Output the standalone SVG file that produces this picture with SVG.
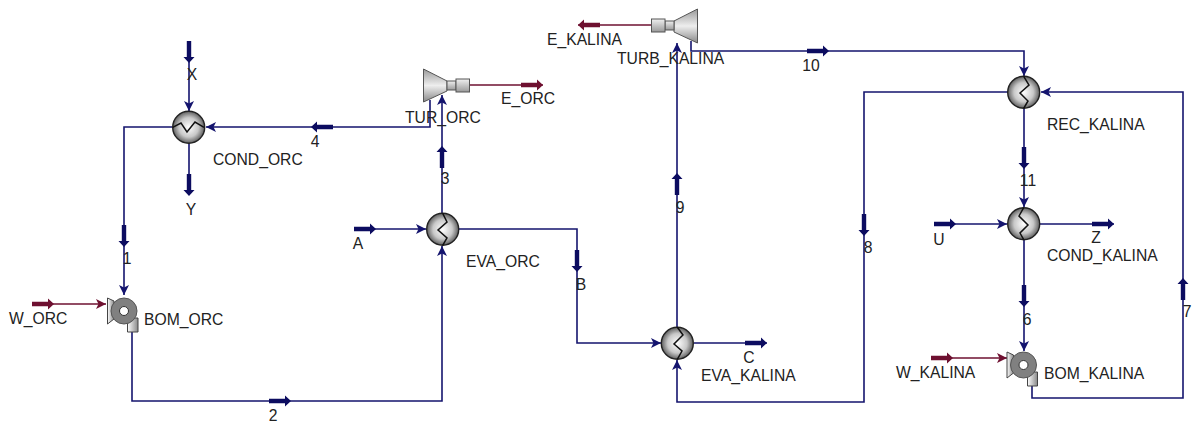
<svg xmlns="http://www.w3.org/2000/svg" width="1193" height="423" viewBox="0 0 1193 423">
<style>
text{font-family:"Liberation Sans",Arial,sans-serif;font-size:15.7px;fill:#222}
.s{fill:none;stroke:#14146e;stroke-width:1.6}
.w{fill:none;stroke:#6e1030;stroke-width:1.6}
.hx{fill:url(#hxg);stroke:#222;stroke-width:1.4}
.z{fill:none;stroke:#111;stroke-width:1.5}
.tb{fill:url(#tg);stroke:#555;stroke-width:1}
.cp{fill:url(#cg);stroke:#555;stroke-width:1}
.pm{fill:#808080;stroke:#555;stroke-width:1}
.pl{fill:url(#pg);stroke:#444;stroke-width:1}
.pe{fill:#fff;stroke:#333;stroke-width:1}
</style>
<defs>
<radialGradient id="hxg" cx="0.5" cy="0.5" r="0.55"><stop offset="0" stop-color="#fff"/><stop offset="0.55" stop-color="#c8c8c8"/><stop offset="1" stop-color="#444"/></radialGradient>
<linearGradient id="tg" x1="0" y1="0" x2="0" y2="1"><stop offset="0" stop-color="#999"/><stop offset="0.5" stop-color="#eee"/><stop offset="1" stop-color="#888"/></linearGradient>
<linearGradient id="cg" x1="0" y1="0" x2="0" y2="1"><stop offset="0" stop-color="#f0f0f0"/><stop offset="1" stop-color="#999"/></linearGradient>
<linearGradient id="pg" x1="0" y1="0" x2="1" y2="0"><stop offset="0" stop-color="#fff"/><stop offset="1" stop-color="#888"/></linearGradient>
<marker id="ab" markerWidth="11" markerHeight="10" refX="10" refY="5" orient="auto" markerUnits="userSpaceOnUse"><path d="M0 0L10 5L0 10L2.5 5Z" fill="#14146e"/></marker>
<marker id="ar" markerWidth="11" markerHeight="10" refX="10" refY="5" orient="auto" markerUnits="userSpaceOnUse"><path d="M0 0L10 5L0 10L2.5 5Z" fill="#6e1030"/></marker>
<path id="tkb" d="M0 -2.2H16V-5.5L22 0L16 5.5V2.2H0Z" fill="#0c0c60"/>
<path id="tkr" d="M0 -2.2H16V-5.5L22 0L16 5.5V2.2H0Z" fill="#6e1030"/>
</defs>
<g id="connectors">
<path class="s" marker-end="url(#ab)" d="M189 41V111"/>
<path class="s" d="M189 143V190"/>
<path class="s" marker-end="url(#ab)" d="M172 127H124V295"/>
<path class="s" marker-end="url(#ab)" d="M132 332V401H442V246"/>
<path class="w" marker-end="url(#ar)" d="M32 304H106"/>
<path class="s" marker-end="url(#ab)" d="M354 229H426"/>
<path class="s" marker-end="url(#ab)" d="M442 213V95"/>
<path class="s" marker-end="url(#ab)" d="M430 100V127H206"/>
<path class="w" d="M470 85H543"/>
<path class="s" marker-end="url(#ab)" d="M459 229H577V343H661"/>
<path class="s" d="M694 343H767"/>
<path class="s" marker-end="url(#ab)" d="M677 327V43"/>
<path class="w" d="M651 25H578"/>
<path class="s" marker-end="url(#ab)" d="M691 41V51H1024V76"/>
<path class="s" marker-end="url(#ab)" d="M1008 92H864V402H677V360"/>
<path class="s" marker-end="url(#ab)" d="M1024 108V207"/>
<path class="s" marker-end="url(#ab)" d="M934 224H1007"/>
<path class="s" d="M1040 224H1114"/>
<path class="s" marker-end="url(#ab)" d="M1024 240V351"/>
<path class="w" marker-end="url(#ar)" d="M931 358H1007"/>
<path class="s" marker-end="url(#ab)" d="M1032 385V398H1183V92H1041"/>
<use href="#tkb" transform="translate(189 41) rotate(90)"/>
<use href="#tkb" transform="translate(189 174) rotate(90)"/>
<use href="#tkb" transform="translate(124 225) rotate(90)"/>
<use href="#tkb" transform="translate(269 401)"/>
<use href="#tkr" transform="translate(32 304)"/>
<use href="#tkb" transform="translate(354 229)"/>
<use href="#tkb" transform="translate(442 168) rotate(-90)"/>
<use href="#tkb" transform="translate(333 127) rotate(180)"/>
<use href="#tkr" transform="translate(521 85)"/>
<use href="#tkb" transform="translate(577 250) rotate(90)"/>
<use href="#tkb" transform="translate(745 343)"/>
<use href="#tkb" transform="translate(677 195) rotate(-90)"/>
<use href="#tkr" transform="translate(600 25) rotate(180)"/>
<use href="#tkb" transform="translate(807 51)"/>
<use href="#tkb" transform="translate(864 214) rotate(90)"/>
<use href="#tkb" transform="translate(1024 147) rotate(90)"/>
<use href="#tkb" transform="translate(934 224)"/>
<use href="#tkb" transform="translate(1092 224)"/>
<use href="#tkb" transform="translate(1024 285) rotate(90)"/>
<use href="#tkr" transform="translate(931 358)"/>
<use href="#tkb" transform="translate(1183 300) rotate(-90)"/>
</g>
<g id="COND_ORC"><circle class="hx" cx="188.700" cy="127.300" r="16"/><path class="z" d="M172.700 127.300L181 123L187 132L195 122L204 127.300"/><text x="213" y="165">COND_ORC</text></g>
<g id="BOM_ORC"><path class="pl" d="M107.500 298L114 301V319L107.500 324Z"/><path class="pl" d="M127.500 318H138V332H127.500Z"/><circle class="pm" cx="124" cy="311" r="13"/><circle class="pe" cx="124" cy="311" r="4.500"/><text x="144" y="325">BOM_ORC</text></g>
<g id="EVA_ORC"><circle class="hx" cx="442.700" cy="229.300" r="16"/><path class="z" d="M442.700 213.300L447 222L438 230L447 238L442.700 245.300"/><text x="466" y="267">EVA_ORC</text></g>
<g id="TUR_ORC"><path class="tb" d="M423.500 69L447 81V91L423.500 102Z"/><rect class="cp" x="447" y="81" width="9" height="9"/><rect class="cp" x="456" y="79" width="13.500" height="13"/><text x="405" y="123">TUR_ORC</text></g>
<text id="E_ORC" x="501" y="104">E_ORC</text>
<g id="EVA_KALINA"><circle class="hx" cx="677.300" cy="343.300" r="16"/><path class="z" d="M677.300 327.300L683 335L674 344L682 351L677.300 359.300"/><text x="701" y="381">EVA_KALINA</text></g>
<g id="TURB_KALINA"><path class="tb" d="M697.500 9L674 21V32L697.500 43Z"/><rect class="cp" x="665" y="21" width="9" height="9"/><rect class="cp" x="651.500" y="19" width="13.500" height="13"/><text x="617" y="64">TURB_KALINA</text></g>
<text id="E_KALINA" x="547" y="45">E_KALINA</text>
<g id="REC_KALINA"><circle class="hx" cx="1023.700" cy="92.300" r="16"/><path class="z" d="M1023.700 76.300L1029 85L1020 93L1028 101L1023.700 108.300"/><text x="1047" y="130">REC_KALINA</text></g>
<g id="COND_KALINA"><circle class="hx" cx="1023.700" cy="223.700" r="16"/><path class="z" d="M1023.700 207.700L1019 216L1028 225L1020 233L1023.700 239.700"/><text x="1047" y="261">COND_KALINA</text></g>
<g id="BOM_KALINA"><path class="pl" d="M1007 352L1013.500 355V373L1007 378Z"/><path class="pl" d="M1027.500 372H1037.500V386H1027.500Z"/><circle class="pm" cx="1023.500" cy="365" r="13"/><circle class="pe" cx="1023.500" cy="365" r="4.500"/><text x="1044" y="379">BOM_KALINA</text></g>
<g id="stream-labels">
<text x="192" y="80" text-anchor="middle">X</text>
<text x="191" y="215" text-anchor="middle">Y</text>
<text x="127" y="264" text-anchor="middle">1</text>
<text x="9" y="324">W_ORC</text>
<text x="273" y="421" text-anchor="middle">2</text>
<text x="315" y="147" text-anchor="middle">4</text>
<text x="445" y="184" text-anchor="middle">3</text>
<text x="358" y="249" text-anchor="middle">A</text>
<text x="581" y="290" text-anchor="middle">B</text>
<text x="749" y="363" text-anchor="middle">C</text>
<text x="680" y="213" text-anchor="middle">9</text>
<text x="811" y="71" text-anchor="middle">10</text>
<text x="868" y="253" text-anchor="middle">8</text>
<text x="1028" y="186" text-anchor="middle">11</text>
<text x="939" y="245" text-anchor="middle">U</text>
<text x="1096" y="243" text-anchor="middle">Z</text>
<text x="1027" y="325" text-anchor="middle">6</text>
<text x="1187" y="317" text-anchor="middle">7</text>
<text x="896" y="378">W_KALINA</text>
</g>
</svg>
